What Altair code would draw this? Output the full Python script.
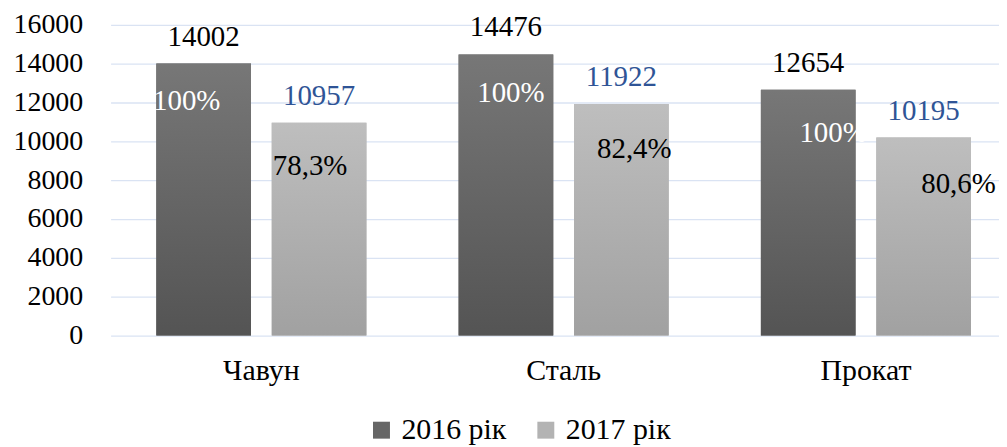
import altair as alt
import pandas as pd

categories = ["Чавун", "Сталь", "Прокат"]
years = ["2016 рік", "2017 рік"]
values_2016 = [14002, 14476, 12654]
values_2017 = [10957, 11922, 10195]
pct_2016 = ["100%", "100%", "100%"]
pct_2017 = ["78,3%", "82,4%", "80,6%"]
y_ticks = list(range(0, 16001, 2000))

# manual placement of the percentage labels (as in the source chart)
pct_y_2016 = [12076, 12484, 10446]
pct_y_2017 = [8713, 9580, 7796]
pct_dx_2016 = [-17, 5, 25]
pct_dx_2017 = [-9, 13, 35]

rows = []
for i, c in enumerate(categories):
    rows.append(dict(cat=c, year=years[0], value=values_2016[i], pct=pct_2016[i],
                     py=pct_y_2016[i], idx=i))
    rows.append(dict(cat=c, year=years[1], value=values_2017[i], pct=pct_2017[i],
                     py=pct_y_2017[i], idx=i))
df = pd.DataFrame(rows)

FONT = "'Times New Roman', 'Liberation Serif', serif"
FS_TICK = 28
FS_VAL = 29
FS_CAT = 30
FS_LEG = 30
BLUE = "#2f5496"
GRID = "#dae3f3"

GRAD16 = {"gradient": "linear", "x1": 0, "y1": 0, "x2": 0, "y2": 1,
          "stops": [{"offset": 0, "color": "#777777"}, {"offset": 1, "color": "#545454"}]}
GRAD17 = {"gradient": "linear", "x1": 0, "y1": 0, "x2": 0, "y2": 1,
          "stops": [{"offset": 0, "color": "#bebebe"}, {"offset": 1, "color": "#a1a1a1"}]}

x = alt.X("cat:N", sort=categories, title=None,
          scale=alt.Scale(domain=categories, paddingInner=0.305, paddingOuter=0.122, align=0.62),
          axis=alt.Axis(labelAngle=0, domain=False, ticks=False, labelFont=FONT,
                        labelFontSize=FS_CAT, labelColor="#000000", labelPadding=20))
xo = alt.XOffset("year:N", sort=years,
                 scale=alt.Scale(domain=years, paddingInner=0.18, paddingOuter=0))
y_axis = alt.Axis(values=y_ticks, grid=True, gridColor=GRID, gridWidth=1.3,
                  domain=False, ticks=False, labelFont=FONT, labelFontSize=FS_TICK,
                  labelColor="#000000", labelPadding=28, format="d")
yscale = alt.Scale(domain=[0, 16000], nice=False)
y = alt.Y("value:Q", scale=yscale, title=None, axis=y_axis)

base = alt.Chart(df)

legend_bars = base.mark_bar().encode(
    x=x, xOffset=xo, y=y,
    color=alt.Color("year:N", sort=years,
                    scale=alt.Scale(domain=years, range=["#666666", "#b3b3b3"]),
                    legend=alt.Legend(title=None, orient="none", direction="horizontal",
                                      legendX=257, legendY=392,
                                      symbolType="square", symbolSize=289,
                                      symbolStrokeWidth=0, labelFont=FONT,
                                      labelFontSize=FS_LEG, labelColor="#000000",
                                      columnPadding=24, labelOffset=5)),
)

grad16 = base.transform_filter(alt.datum.year == years[0]).mark_bar(fill=GRAD16).encode(
    x=x, xOffset=xo, y=y)
grad17 = base.transform_filter(alt.datum.year == years[1]).mark_bar(fill=GRAD17).encode(
    x=x, xOffset=xo, y=y)

value_labels = base.mark_text(font=FONT, fontSize=FS_VAL, baseline="middle", dy=-27).encode(
    x=x, xOffset=xo, y=y,
    text=alt.Text("value:Q", format="d"),
    color=alt.condition(alt.datum.year == years[0], alt.value("#000000"), alt.value(BLUE)),
)

pct_layers = []
for i in range(len(categories)):
    for yr, dxs, col in ((years[0], pct_dx_2016, "#ffffff"), (years[1], pct_dx_2017, "#000000")):
        pct_layers.append(
            base.transform_filter((alt.datum.idx == i) & (alt.datum.year == yr))
            .mark_text(font=FONT, fontSize=FS_VAL, baseline="middle", dx=dxs[i], color=col)
            .encode(x=x, xOffset=xo, y=alt.Y("py:Q", scale=yscale, title=None, axis=y_axis),
                    text="pct:N")
        )

chart = alt.layer(legend_bars, grad16, grad17, value_labels, *pct_layers).properties(
    width=892, height=312,
    padding={"left": 5, "top": 2, "right": 0, "bottom": 0},
).configure_view(stroke=None)

chart.save("out.html", embed_options={"renderer": "svg", "actions": False})
